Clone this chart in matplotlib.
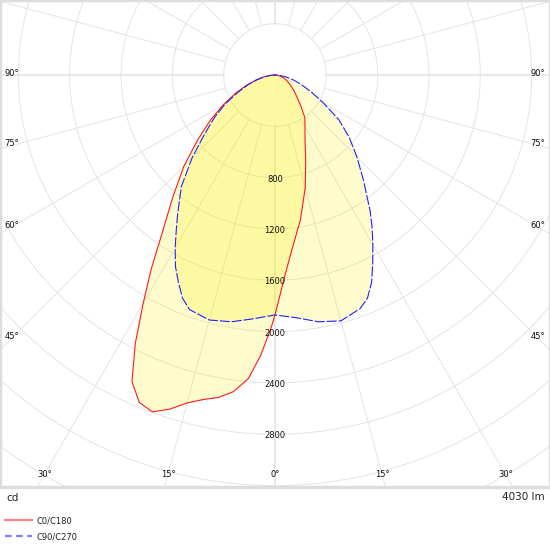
import numpy as np
import matplotlib
matplotlib.use("Agg")
import matplotlib.pyplot as plt
from matplotlib.lines import Line2D

# ---------------- data (cd) ----------------
# C0 half-plane (right side of the red curve)
c0_gamma = [0, 2.5, 5, 10, 15, 20, 25, 30, 35, 40, 45, 50, 55, 60, 65, 70, 75, 80, 85, 90]
c0_cd = [1870, 1595, 1401, 1144, 910, 700, 553, 467, 405, 311, 241, 195, 156, 125, 101, 78, 54, 31, 16, 0]

# C180 half-plane (left side of the red curve)
c180_gamma = [0, 1, 3, 5, 7.5, 10, 12.5, 15, 17.5, 20, 22.5, 25, 27.5, 30, 32.5, 35, 37.5, 40,
              45, 50, 55, 60, 65, 70, 75, 80, 85, 90]
c180_cd = [1870, 1984, 2195, 2374, 2490, 2552, 2591, 2646, 2731, 2794, 2763, 2638, 2358, 2054,
           1798, 1556, 1377, 1237, 1004, 786, 615, 467, 342, 241, 156, 93, 39, 0]

# C90 half-plane (right side of the blue curve)
c90_gamma = [0, 5, 10, 15, 20, 22.5, 25, 27.5, 30, 32.5, 35, 40, 45, 50, 55, 60, 65, 70, 75, 80, 85, 90]
c90_cd = [1870, 1899, 1953, 1984, 1938, 1883, 1782, 1650, 1525, 1409, 1292, 1074, 903, 755, 607,
          436, 311, 218, 148, 86, 39, 0]

# C270 half-plane (left side of the blue curve)
c270_gamma = [0, 5, 10, 15, 20, 22.5, 25, 27.5, 30, 32.5, 35, 40, 45, 50, 55, 60, 65, 70, 75, 80, 85, 90]
c270_cd = [1870, 1907, 1953, 1977, 1946, 1883, 1782, 1681, 1556, 1432, 1323, 1136, 914, 716, 576,
           444, 319, 226, 148, 86, 39, 0]

ring_values = [800, 1200, 1600, 2000, 2400, 2800]
angle_labels = [0, 15, 30, 45, 60, 75, 90]
series_labels = ["C0/C180", "C90/C270"]
unit_label = "cd"
flux_label = "4030 lm"

# ---------------- layout ----------------
W, H = 550, 550
box_bottom_px = 487          # bottom edge of the plot box (from top)
cx_px, cy_px = 275, 75       # pole position in pixels
k = 7.794                    # cd per pixel

fig = plt.figure(figsize=(W / 100, H / 100), dpi=100)
ax = fig.add_axes([0, (H - box_bottom_px) / H, 1, box_bottom_px / H])
ax.set_xlim(-cx_px * k, (W - cx_px) * k)
ax.set_ylim(-(box_bottom_px - cy_px) * k, cy_px * k)
ax.set_xticks([])
ax.set_yticks([])
for sp in ax.spines.values():
    sp.set_color("#dddddd")
    sp.set_linewidth(2.5)

grid_c = "#e4e4e4"
# rings
t = np.linspace(0, 2 * np.pi, 400)
for r in range(400, 4401, 400):
    ax.plot(r * np.sin(t), r * np.cos(t), color=grid_c, lw=0.7, zorder=1)
# radial lines every 15 degrees, starting at the inner ring
for a in range(0, 360, 15):
    ar = np.radians(a)
    strong = a % 90 == 0
    ax.plot([400 * np.sin(ar), 6000 * np.sin(ar)], [-400 * np.cos(ar), -6000 * np.cos(ar)],
            color="#e8e8e8" if strong else grid_c, lw=1.5 if strong else 0.7, zorder=1)


def polygon(left_g, left_i, right_g, right_i):
    lg = np.radians(np.array(left_g, float))[::-1]
    li = np.array(left_i, float)[::-1]
    rg = np.radians(np.array(right_g, float))
    ri = np.array(right_i, float)
    x = np.concatenate([-li * np.sin(lg), ri * np.sin(rg)])
    y = np.concatenate([-li * np.cos(lg), -ri * np.cos(rg)])
    return x, y


xr, yr = polygon(c180_gamma, c180_cd, c0_gamma, c0_cd)
xb, yb = polygon(c270_gamma, c270_cd, c90_gamma, c90_cd)

fill_c = "#faf000"
ax.fill(xr, yr, color=fill_c, alpha=0.2, lw=0, zorder=2)
ax.fill(xb, yb, color=fill_c, alpha=0.2, lw=0, zorder=2)
ax.plot(xr, yr, color="#ff1a1a", lw=0.8, zorder=4)
ax.plot(xb, yb, color="#2020ff", lw=0.8, ls=(0, (9, 1.8)), zorder=4)

# ring labels
for v in ring_values:
    ax.text(0, -v - 1.5 * k, str(v), ha="center", va="center", fontsize=6,
            color="#111111", zorder=5)

# angle labels, on each gamma line near the box edge
inset_side = 12
inset_bottom = 13
for a in angle_labels:
    ar = np.radians(a)
    for side in ([1] if a == 0 else [-1, 1]):
        s, c = np.sin(ar), np.cos(ar)
        d_side = (cx_px - inset_side) / s if s > 1e-9 else np.inf
        d_bot = (box_bottom_px - inset_bottom - cy_px) / c if c > 1e-9 else np.inf
        d = min(d_side, d_bot)
        px = side * d * s * k
        py = -d * c * k
        if d_side < d_bot:
            py += 1.5 * k
        ax.text(px, py, f"{a}°", ha="center", va="center", fontsize=6, color="#111111",
                zorder=5)

# labels below the box
fig.text(6 / W, 1 - 498 / H, unit_label, ha="left", va="center", fontsize=7.5, color="#222222")
fig.text(545 / W, 1 - 497 / H, flux_label, ha="right", va="center", fontsize=7.5,
         color="#222222")

handles = [Line2D([], [], color="#ff8080", lw=1.6),
           Line2D([], [], color="#8080ff", lw=1.6, ls=(0, (3, 2)))]
fig.legend(handles, series_labels, loc="upper left", bbox_to_anchor=(5 / W, 1 - 516 / H),
           frameon=False, fontsize=6, handlelength=3.2, handletextpad=0.6,
           labelspacing=0.85, borderpad=0, borderaxespad=0, labelcolor="#222222")

fig.savefig("out.png", dpi=100, facecolor="white")
